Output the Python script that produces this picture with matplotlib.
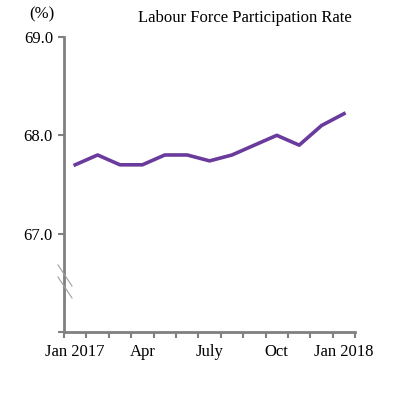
import matplotlib
matplotlib.use("Agg")
import matplotlib.pyplot as plt
from matplotlib.lines import Line2D

months = ["Jan 2017", "Feb", "Mar", "Apr", "May", "Jun", "July", "Aug", "Sep",
          "Oct", "Nov", "Dec", "Jan 2018"]
rate = [67.7, 67.8, 67.7, 67.7, 67.8, 67.8, 67.74, 67.8, 67.9, 68.0, 67.9, 68.1, 68.22]
shown = ["Jan 2017", "Apr", "July", "Oct", "Jan 2018"]
yticks = [66, 67, 68, 69]
ylabels = ["", "67.0", "68.0", "69.0"]

plt.rcParams["font.family"] = "Liberation Serif"
grey = "#808080"

fig = plt.figure(figsize=(4.05, 3.98), dpi=100)
ax = fig.add_axes([0.158, 0.166, 0.719, 0.741])

x = list(range(len(months)))
ax.plot(x, rate, color="#6a3b9c", lw=2.6, solid_joinstyle="round")

ax.set_xlim(-0.5, len(months) - 0.5)
ax.set_ylim(66, 69)
ax.set_yticks(yticks)
ax.set_yticklabels(ylabels, fontsize=12)

ax.set_xticks([i - 0.5 for i in range(len(months) + 1)], minor=True)
ax.set_xticks([i for i, m in enumerate(months) if m in shown])
ax.set_xticklabels([m for m in months if m in shown], fontsize=12)
ax.tick_params(axis="x", which="major", length=0, pad=9)
ax.tick_params(axis="x", which="minor", length=4, width=1.5, color=grey)
ax.tick_params(axis="y", length=4, width=1.5, color=grey, pad=4)

for s in ["top", "right"]:
    ax.spines[s].set_visible(False)
for s in ["left", "bottom"]:
    ax.spines[s].set_color(grey)
    ax.spines[s].set_linewidth(2)

# axis break marks
for y0 in [265, 277]:
    fig.add_artist(Line2D([58 / 405, 72 / 405],
                          [1 - y0 / 398, 1 - (y0 + 21) / 398],
                          color="#a0a0a0", lw=0.8))

fig.text(42 / 405, 1 - 14 / 398, "(%)", fontsize=12, ha="center", va="center")
fig.text(245 / 405, 1 - 18 / 398, "Labour Force Participation Rate",
         fontsize=12, ha="center", va="center")

fig.savefig("out.png", dpi=100)
